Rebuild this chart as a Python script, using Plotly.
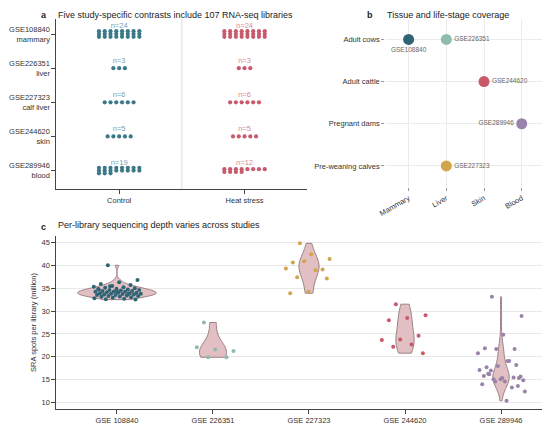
import math
import numpy as np
import plotly.graph_objects as go

# panel a: libraries per study and condition
studies = ["GSE108840", "GSE226351", "GSE227323", "GSE244620", "GSE289946"]
tissues = ["mammary", "liver", "calf liver", "skin", "blood"]
conditions = ["Control", "Heat stress"]
n_control = [24, 3, 6, 5, 19]
n_heat = [24, 3, 6, 5, 12]

# panel b: tissue x life stage coverage
life_stages = ["Adult cows", "Adult cattle", "Pregnant dams", "Pre-weaning calves"]
tissue_axis = ["Mammary", "Liver", "Skin", "Blood"]
study_tissue = ["Mammary", "Liver", "Liver", "Skin", "Blood"]
study_stage = ["Adult cows", "Adult cows", "Pre-weaning calves", "Adult cattle", "Pregnant dams"]

# panel c: SRA spots per library (million)
depth_labels = ["GSE 108840", "GSE 226351", "GSE 227323", "GSE 244620", "GSE 289946"]
depth_108840 = [40.0, 36.8, 36.3, 35.9, 35.7, 35.5, 35.3, 35.2, 35.1, 35.0, 34.9, 34.8,
                34.7, 34.6, 34.6, 34.5, 34.4, 34.4, 34.3, 34.2, 34.2, 34.1, 34.0, 34.0,
                33.9, 33.9, 33.8, 33.8, 33.7, 33.6, 33.6, 33.5, 33.5, 33.4, 33.3, 33.3,
                33.2, 33.1, 33.0, 32.9, 32.8, 32.7, 32.6, 32.5, 34.3, 34.7, 33.7, 35.4]
depth_226351 = [27.5, 21.3, 21.6, 22.1, 19.9, 19.9]
depth_227323 = [44.8, 41.4, 42.4, 40.6, 39.1, 40.9, 39.3, 38.9, 37.4, 37.1, 34.2, 33.9]
depth_244620 = [31.5, 29.1, 28.5, 28.0, 24.6, 23.8, 23.7, 22.7, 22.2, 20.8]
depth_289946 = [33.1, 28.9, 24.8, 21.9, 21.7, 21.7, 20.8, 19.1, 16.2, 15.4, 15.1,
                14.0, 13.3, 15.1, 14.9, 14.6, 17.7, 18.2, 18.0, 17.1, 19.1, 17.0,
                15.7, 15.4, 15.8, 15.5, 14.6, 12.4, 10.4, 16.3, 13.6]
depths = [depth_108840, depth_226351, depth_227323, depth_244620, depth_289946]

FONT = "Liberation Sans, Arial, sans-serif"
study_colors = ["#2f6475", "#8fbcb1", "#d1a54c", "#c9586b", "#9a83aa"]
cond_colors = ["#3b7888", "#c85a6d"]
cond_text_colors = ["#7aa3ae", "#d98b98"]
label_pos = ["bottom center", "middle right", "middle right", "middle right", "middle left"]
violin_widths = [0.82, 0.28, 0.21, 0.19, 0.17]
violin_bw = [None, 2.2, 1.8, 2.6, None]
W, H = 550, 426
OFF = 8  # page body margin


def px(x):
    return (x - OFF) / W


def py(y):
    return 1 - (y - OFF) / H


fig = go.Figure()

# ---- panel a: dot matrices
dx, dy = 0.046, 0.082
for j, counts in enumerate([n_control, n_heat]):
    xs, ys, tx, ty, tt = [], [], [], [], []
    for i, n in enumerate(counts):
        cols = min(n, 8)
        rows = math.ceil(n / 8)
        base, extra = divmod(n, cols)
        for c in range(cols):
            for r in range(base + (1 if c < extra else 0)):
                xs.append(j + (c - (cols - 1) / 2) * dx)
                ys.append(i + (r - (rows - 1) / 2) * dy)
        tx.append(j)
        ty.append(i - 0.22)
        tt.append(f"n={n}")
    fig.add_trace(go.Scatter(x=xs, y=ys, mode="markers", xaxis="x", yaxis="y",
                             marker=dict(size=4.2, color=cond_colors[j]),
                             hoverinfo="skip"))
    fig.add_trace(go.Scatter(x=tx, y=ty, mode="text", text=tt, xaxis="x", yaxis="y",
                             textfont=dict(size=7.5, color=cond_text_colors[j], family=FONT),
                             hoverinfo="skip"))

fig.add_shape(type="line", xref="x", yref="y domain", x0=0.5, x1=0.5, y0=0, y1=1,
              line=dict(color="#dddddd", width=1), layer="below")

# ---- panel b: coverage
for k, s in enumerate(studies):
    fig.add_trace(go.Scatter(
        x=[tissue_axis.index(study_tissue[k])], y=[life_stages.index(study_stage[k])],
        mode="markers+text", text=[s], textposition=label_pos[k],
        textfont=dict(size=6.5, color="#666666", family=FONT),
        marker=dict(size=11, color=study_colors[k]),
        xaxis="x2", yaxis="y2", hoverinfo="skip"))

# ---- panel c: depth violins + jittered points
for i, vals in enumerate(depths):
    v = go.Violin(
        x=[i] * len(vals), y=vals, width=violin_widths[i], spanmode="hard",
        scalemode="width", points=False, fillcolor="#e2bfc2",
        line=dict(color="#9c8385", width=1), opacity=1,
        xaxis="x3", yaxis="y3", hoverinfo="skip")
    if violin_bw[i]:
        v.bandwidth = violin_bw[i]
    fig.add_trace(v)
    k = np.arange(len(vals))
    jitter = ((k * 0.618034 + 0.31) % 1 - 0.5) * 0.5
    fig.add_trace(go.Scatter(
        x=i + jitter, y=vals, mode="markers",
        marker=dict(size=4, color=study_colors[i]),
        xaxis="x3", yaxis="y3", hoverinfo="skip"))

tick_font = dict(size=7.5, color="#333333", family=FONT)
axis_line = dict(showline=True, linecolor="#444444", linewidth=1, ticks="outside",
                 ticklen=4, tickcolor="#444444", tickfont=tick_font, zeroline=False)

fig.update_layout(
    width=W, height=H, margin=dict(l=0, r=0, t=0, b=0),
    paper_bgcolor="white", plot_bgcolor="white", showlegend=False,
    violinmode="overlay", font=dict(family=FONT),
    xaxis=dict(domain=[px(50), px(304)], range=[-0.5, 1.5], tickvals=[0, 1],
               ticktext=conditions, showgrid=False, anchor="y", **axis_line),
    yaxis=dict(domain=[py(189), py(19)], range=[4.54, -0.44],
               tickvals=list(range(5)),
               ticktext=[f"{s}<br>{t}" for s, t in zip(studies, tissues)],
               showgrid=False, anchor="x", **axis_line),
    xaxis2=dict(domain=[px(383), px(548)], range=[-0.62, 3.7], tickvals=list(range(4)),
                ticktext=tissue_axis, tickangle=-30, showgrid=True, gridcolor="#ebebeb",
                ticks="outside", ticklen=3, tickcolor="#999999", tickfont=tick_font,
                showline=False, zeroline=False, anchor="y2"),
    yaxis2=dict(domain=[py(187), py(20)], range=[3.5, -0.46], tickvals=list(range(4)),
                ticktext=life_stages, showgrid=True, gridcolor="#ebebeb",
                ticks="outside", ticklen=3, tickcolor="#999999", tickfont=tick_font,
                showline=False, zeroline=False, anchor="x2"),
    xaxis3=dict(domain=[px(50), px(546)], range=[-0.63, 4.47], tickvals=list(range(5)),
                ticktext=depth_labels, showgrid=False, anchor="y3", **axis_line),
    yaxis3=dict(domain=[py(409), py(236)], range=[8.6, 46.4], dtick=5,
                showgrid=True, gridcolor="#e8e8e8", anchor="x3",
                title=dict(text="SRA spots per library (million)",
                           font=dict(size=7.5, color="#333333", family=FONT), standoff=3),
                **axis_line),
)

# panel letters and titles (top row pinned to the top edge of the figure)
notes = [
    (32, None, "<b>a</b>"), (50, None, "Five study-specific contrasts include 107 RNA-seq libraries"),
    (363, None, "<b>b</b>"), (383, None, "Tissue and life-stage coverage"),
    (32, 227, "<b>c</b>"), (50, 225, "Per-library sequencing depth varies across studies"),
]
for x, y, t in notes:
    fig.add_annotation(x=px(x), y=1.0 if y is None else py(y), xref="paper", yref="paper",
                       text=t, showarrow=False, xanchor="left",
                       yanchor="top" if y is None else "middle",
                       font=dict(size=9, color="#222222", family=FONT))

fig.write_html("out.html")
